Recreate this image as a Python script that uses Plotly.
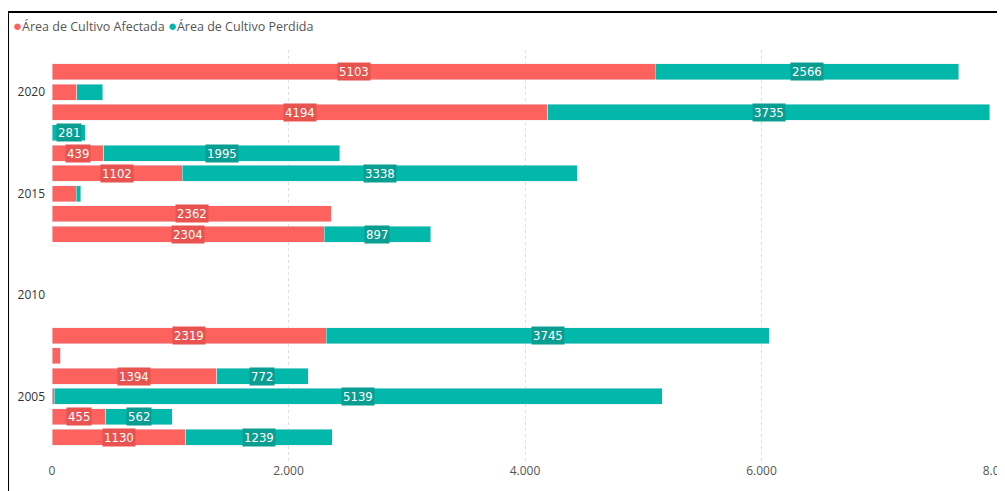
import plotly.graph_objects as go

years = [2021, 2020, 2019, 2018, 2017, 2016, 2015, 2014, 2013,
         2008, 2007, 2006, 2005, 2004, 2003]
afectada = [5103, 211, 4194, 0, 439, 1102, 203, 2362, 2304,
            2319, 76, 1394, 20, 455, 1130]
perdida = [2566, 220, 3735, 281, 1995, 3338, 42, 0, 897,
           3745, 0, 772, 5139, 562, 1239]
show_a = [True, False, True, False, True, True, False, True, True,
          True, False, True, False, True, True]
show_p = [True, False, True, True, True, True, False, False, True,
          True, False, True, True, True, True]
series_names = ["Área de Cultivo Afectada", "Área de Cultivo Perdida"]

PINK = "#FD625E"
TEAL = "#01B8AA"
LABEL_FONT = "Liberation Sans Narrow, DejaVu Sans Condensed, sans-serif"

fig = go.Figure()
fig.add_trace(go.Bar(y=years, x=afectada, orientation="h", marker_color=PINK,
                     name=series_names[0], showlegend=False, hoverinfo="x+y"))
fig.add_trace(go.Bar(y=years, x=perdida, orientation="h", marker_color=TEAL,
                     name=series_names[1], showlegend=False, hoverinfo="x+y"))

annotations = []
for y, a, p, sa, sp in zip(years, afectada, perdida, show_a, show_p):
    if sa:
        annotations.append(dict(x=a / 2, y=y, text=str(a), showarrow=False,
                                xref="x", yref="y", bgcolor="#E8524F",
                                font=dict(color="white", size=13, family=LABEL_FONT),
                                borderpad=1))
    if sp:
        annotations.append(dict(x=a + p / 2, y=y, text=str(p), showarrow=False,
                                xref="x", yref="y", bgcolor="#0A9E92",
                                font=dict(color="white", size=13, family=LABEL_FONT),
                                borderpad=1))

# legend drawn as text
legend_text = (f"<span style='color:{PINK};font-size:15px'>●</span>{series_names[0]} "
               f"<span style='color:{TEAL};font-size:15px'>●</span>{series_names[1]}")
annotations.append(dict(xref="paper", yref="paper", x=-0.0435, y=1.061,
                        xanchor="left", yanchor="middle", showarrow=False,
                        text=legend_text,
                        font=dict(size=12.5, color="#555555",
                                  family="Open Sans, sans-serif")))

fig.update_layout(
    width=1005, height=491,
    barmode="stack", bargap=0.21,
    plot_bgcolor="white", paper_bgcolor="white",
    margin=dict(l=44, r=15, t=42, b=37, autoexpand=False),
    font=dict(family="Open Sans, sans-serif", size=12, color="#333333"),
    showlegend=False,
    annotations=annotations,
    xaxis=dict(range=[0, 8000], tickvals=[0, 2000, 4000, 6000, 8000],
               ticktext=["0", "2.000", "4.000", "6.000", "8.000"],
               showgrid=True, gridcolor="#DDDDDD", griddash="dot", gridwidth=1,
               zeroline=False, showline=False, ticks="", automargin=False,
               ticklabeloverflow="allow",
               tickfont=dict(size=12, color="#555555")),
    yaxis=dict(range=[2001.77, 2022.08], tickvals=[2005, 2010, 2015, 2020],
               showgrid=False, zeroline=False, showline=False, ticks="",
               automargin=False, ticklabelstandoff=6,
               tickfont=dict(size=12, color="#333333")),
    shapes=[
        dict(type="line", xref="paper", yref="paper", x0=-0.0465, x1=1.03,
             y0=1.092, y1=1.092, line=dict(color="black", width=2)),
        dict(type="line", xref="paper", yref="paper", x0=-0.0465, x1=-0.0465,
             y0=-0.1, y1=1.092, line=dict(color="black", width=2)),
    ],
)

fig.write_html("out.html")
